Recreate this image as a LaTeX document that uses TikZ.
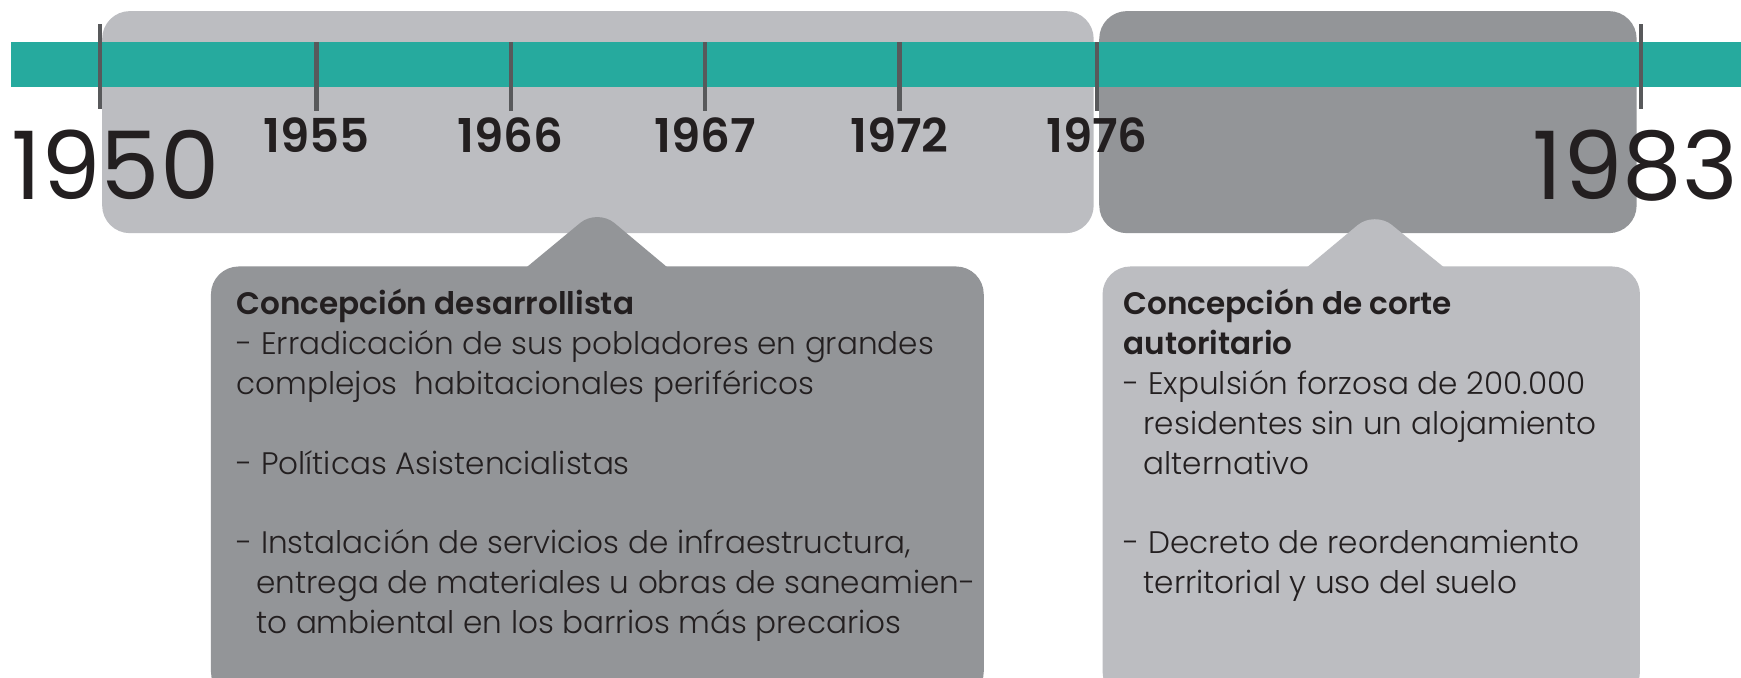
\documentclass[tikz,border=0pt]{standalone}
\usepackage{fontspec}
\setmainfont{Poppins Light}[BoldFont={Poppins SemiBold}]
\newfontfamily\yearfont{Poppins}
\usepackage{tikz}

\begin{document}
\begin{tikzpicture}[x=1pt,y=1pt,
  tickline/.style={draw=tickColor,line width=4pt},
  yearlabel/.style={text=textColor,anchor=base,inner sep=0pt,outer sep=0pt,font=\fontsize{42}{42}\selectfont\bfseries},
  bigyear/.style={text=textColor,inner sep=0pt,outer sep=0pt,font=\fontsize{85}{85}\yearfont},
  notetext/.style={text=textColor,anchor=north west,inner sep=0pt,outer sep=0pt,align=left,font=\fontsize{28}{36}\selectfont}]
\definecolor{barColor}{RGB}{38,170,158}
\definecolor{lightColor}{RGB}{188,189,193}
\definecolor{darkColor}{RGB}{147,149,152}
\definecolor{tickColor}{RGB}{88,89,91}
\definecolor{textColor}{RGB}{35,31,32}
\newcommand\indnt{\hspace*{18pt}}
\path[use as bounding box,fill=white] (0,0) rectangle (1568,610);
\begin{scope}
\path[clip] (0,0) rectangle (1568,610);

% period boxes
\path[fill=lightColor,rounded corners=25] ( 92,400) rectangle ( 985,600);
\path[fill=darkColor,rounded corners=25] (990,400) rectangle (1474,600);

% time bar
\path[fill=barColor] ( 10,532) rectangle (1568,572);

\coordinate (top1950) at (  90,588);
\coordinate (bot1950) at (  90,512);
\coordinate (top1983) at (1478,588);
\coordinate (bot1983) at (1478,512);
\draw[tickline] (top1950) -- (bot1950);
\draw[tickline] (top1983) -- (bot1983);

\foreach \yr/\xx in {1955/285,1966/460,1967/635,1972/810,1976/988} {
  \coordinate (top\yr) at (\xx,572);
  \coordinate (bot\yr) at (\xx,510);
  \draw[tickline] (top\yr) -- (bot\yr);
  \node[yearlabel] (lab\yr) at (\xx,473) {\yr};
}

\node[bigyear,anchor=base west] (lab1950) at (  10,430) {1950};
\node[bigyear,anchor=base east] (lab1983) at (1565,430) {1983};

% callouts
\path[fill=darkColor,rounded corners=25] (190,-20) rectangle (886,370);
\path[fill=darkColor,rounded corners=20] (457,355) -- (538,422) -- (618,355) -- cycle;
\path[fill=lightColor,rounded corners=25] (993,-20) rectangle (1477,370);
\path[fill=lightColor,rounded corners=20] (1160,355) -- (1238,420) -- (1318,355) -- cycle;
\end{scope}

\node[notetext] (desarrollista) at (213,350) {\textbf{Concepción desarrollista}\\
- Erradicación de sus pobladores en grandes\\
complejos\ \ habitacionales periféricos\\[36pt]
- Políticas Asistencialistas\\[36pt]
- Instalación de servicios de infraestructura,\\
\indnt entrega de materiales u obras de saneamien-\\
\indnt to ambiental en los barrios más precarios};

\node[notetext] (autoritario) at (1012,350) {\textbf{Concepción de corte}\\
\textbf{autoritario}\\
- Expulsión forzosa de 200.000\\
\indnt residentes sin un alojamiento\\
\indnt alternativo\\[36pt]
- Decreto de reordenamiento\\
\indnt territorial y uso del suelo};
\end{tikzpicture}
\end{document}
